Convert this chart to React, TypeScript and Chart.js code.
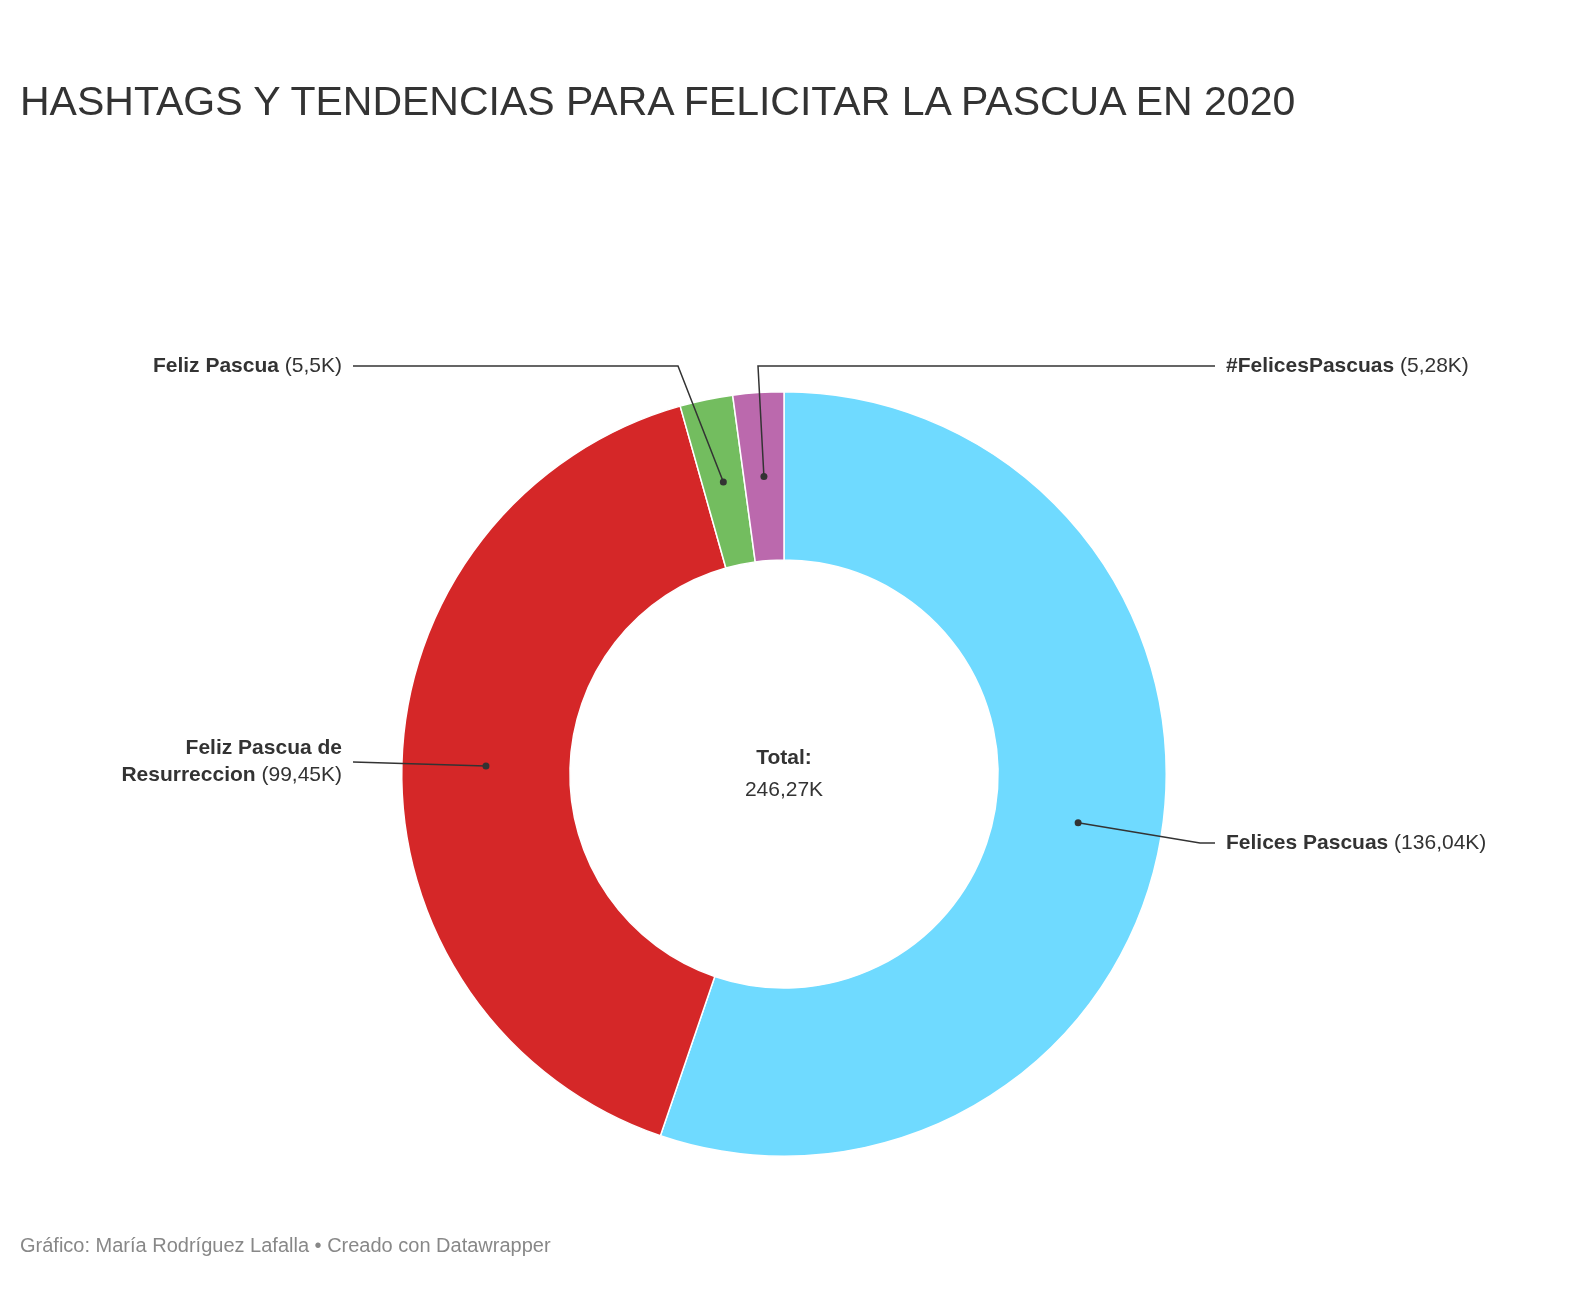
import React, { useEffect, useRef } from 'react';
import { Chart, registerables } from 'chart.js';

Chart.register(...registerables);

const labels = ['Felices Pascuas', 'Feliz Pascua de Resurreccion', 'Feliz Pascua', '#FelicesPascuas'];
const values = [136.04, 99.45, 5.5, 5.28];
const valueTexts = ['136,04K', '99,45K', '5,5K', '5,28K'];
const colors = ['#6fdaff', '#d52728', '#73bd5f', '#bb69ad'];
const totalText = '246,27K';

const FONT = '"Liberation Sans", Arial, sans-serif';

// label anchors (canvas coords), with an elbow point for the leader line
const callouts = [
  { elbow: [1192, 835], end: [1207, 835], side: 'left', lines: [['Felices Pascuas', ' (' + valueTexts[0] + ')']] },
  { elbow: [345, 754], end: [345, 754], side: 'right', lines: [['Feliz Pascua de', ''], ['Resurreccion', ' (' + valueTexts[1] + ')']] },
  { elbow: [670, 358], end: [345, 358], side: 'right', lines: [['Feliz Pascua', ' (' + valueTexts[2] + ')']] },
  { elbow: [750, 358], end: [1207, 358], side: 'left', lines: [['#FelicesPascuas', ' (' + valueTexts[3] + ')']] },
];

const calloutPlugin = {
  id: 'callouts',
  afterDraw(chart: Chart) {
    const ctx = chart.ctx;
    const meta = chart.getDatasetMeta(0);
    ctx.save();
    meta.data.forEach((arc: any, i: number) => {
      const p = arc.getCenterPoint();
      const c = callouts[i];
      ctx.strokeStyle = '#333';
      ctx.lineWidth = 1.5;
      ctx.beginPath();
      ctx.moveTo(p.x, p.y);
      ctx.lineTo(c.elbow[0], c.elbow[1]);
      ctx.lineTo(c.end[0], c.end[1]);
      ctx.stroke();
      ctx.fillStyle = '#333';
      ctx.beginPath();
      ctx.arc(p.x, p.y, 3.5, 0, Math.PI * 2);
      ctx.fill();
      ctx.textBaseline = 'middle';
      const n = c.lines.length;
      c.lines.forEach((ln, k) => {
        const y = c.end[1] + (k - (n - 1) / 2) * 27 + (n > 1 ? 0 : 0);
        ctx.font = 'bold 21px ' + FONT;
        const wb = ctx.measureText(ln[0]).width;
        ctx.font = '21px ' + FONT;
        const wr = ctx.measureText(ln[1]).width;
        let x = c.side === 'left' ? c.end[0] + 11 : c.end[0] - 11 - wb - wr;
        ctx.textAlign = 'left';
        ctx.font = 'bold 21px ' + FONT;
        ctx.fillText(ln[0], x, y);
        ctx.font = '21px ' + FONT;
        ctx.fillText(ln[1], x + wb, y);
      });
    });
    const cx = (chart.chartArea.left + chart.chartArea.right) / 2;
    const cy = (chart.chartArea.top + chart.chartArea.bottom) / 2;
    ctx.textAlign = 'center';
    ctx.font = 'bold 21px ' + FONT;
    ctx.fillText('Total:', cx, cy - 16);
    ctx.font = '21px ' + FONT;
    ctx.fillText(totalText, cx, cy + 16);
    ctx.restore();
  },
};

export default function App() {
  const canvasRef = useRef<HTMLCanvasElement>(null);
  const chartRef = useRef<Chart | null>(null);

  useEffect(() => {
    if (!canvasRef.current) return;
    if (chartRef.current) chartRef.current.destroy();
    chartRef.current = new Chart(canvasRef.current, {
      type: 'doughnut',
      data: {
        labels,
        datasets: [{ data: values, backgroundColor: colors, borderColor: '#fff', borderWidth: 1.5 }],
      },
      options: {
        animation: false,
        responsive: true,
        maintainAspectRatio: false,
        cutout: '56%',
        layout: { padding: { top: 383, bottom: 121, left: 0, right: 18 } },
        plugins: { legend: { display: false }, tooltip: { enabled: false } },
      },
      plugins: [calloutPlugin],
    });
    return () => {
      if (chartRef.current) chartRef.current.destroy();
    };
  }, []);

  return (
    <div style={{ position: 'relative', width: 1570, height: 1270, fontFamily: FONT }}>
      <div style={{ position: 'absolute', left: 0, top: 0, width: 1570, height: 1270 }}>
        <canvas ref={canvasRef} />
      </div>
      <div style={{ position: 'absolute', left: 12, top: 70, fontSize: 41, color: '#333', whiteSpace: 'nowrap' }}>
        HASHTAGS Y TENDENCIAS PARA FELICITAR LA PASCUA EN 2020
      </div>
      <div style={{ position: 'absolute', left: 12, top: 1226, fontSize: 20, color: '#888' }}>
        Gráfico: María Rodríguez Lafalla • Creado con Datawrapper
      </div>
    </div>
  );
}
